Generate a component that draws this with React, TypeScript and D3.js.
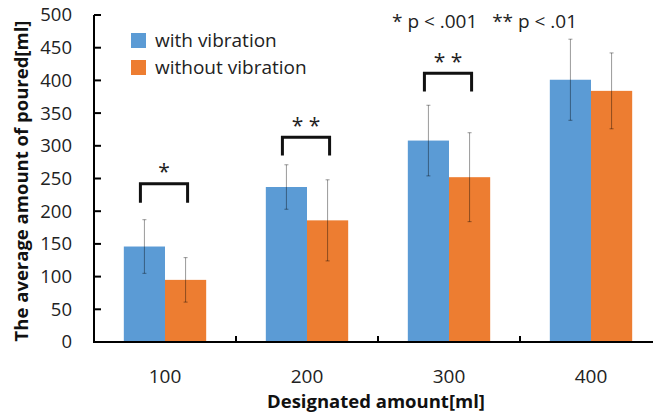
import React from "react";
import * as d3 from "d3";

const categories = ["100", "200", "300", "400"];
const withVibration = [146, 237, 308, 401];
const withVibrationErr = [41, 34, 54, 62];
const withoutVibration = [95, 186, 252, 384];
const withoutVibrationErr = [34, 62, 68, 58];
const yTicks = [0, 50, 100, 150, 200, 250, 300, 350, 400, 450, 500];
// bracket: category index, value level (top), leg depth, label
const brackets = [
  { cat: 0, top: 242, bottom: 213, label: "*" },
  { cat: 1, top: 313, bottom: 285, label: "* *" },
  { cat: 2, top: 411, bottom: 383, label: "* *" },
];

const W = 653;
const H = 416;
const font = "'Open Sans', 'Noto Sans', sans-serif";

export default function App() {
  const left = 94;
  const catW = 142;
  const x = d3
    .scaleBand()
    .domain(categories)
    .range([left, left + catW * categories.length])
    .paddingInner(0.42)
    .paddingOuter(0.21);
  const y = d3.scaleLinear().domain([0, 500]).range([342, 15]);
  const barW = x.bandwidth() / 2;

  const series = [
    { name: "with vibration", values: withVibration, err: withVibrationErr, color: "#5B9BD5" },
    { name: "without vibration", values: withoutVibration, err: withoutVibrationErr, color: "#ED7D31" },
  ];

  return (
    <svg width={W} height={H} style={{ position: "absolute", left: 0, top: 0, background: "#fff" }} fontFamily={font}>
      {/* bars */}
      {series.map((s, si) =>
        s.values.map((v, i) => {
          const bx = (x(categories[i]) as number) + si * barW;
          return <rect key={s.name + i} x={bx} y={y(v)} width={barW} height={y(0) - y(v)} fill={s.color} />;
        })
      )}
      {/* error bars */}
      {series.map((s, si) =>
        s.values.map((v, i) => {
          const cx = (x(categories[i]) as number) + si * barW + barW / 2;
          const y1 = y(v + s.err[i]);
          const y2 = y(v - s.err[i]);
          return (
            <g key={"e" + s.name + i} stroke="#000" strokeOpacity={0.4} strokeWidth={1}>
              <line x1={cx} x2={cx} y1={y1} y2={y2} />
              <line x1={cx - 2} x2={cx + 2} y1={y1} y2={y1} />
              <line x1={cx - 2} x2={cx + 2} y1={y2} y2={y2} />
            </g>
          );
        })
      )}
      {/* axes */}
      <line x1={left} x2={left} y1={y(500)} y2={y(0)} stroke="#000" strokeWidth={2} />
      <line x1={left - 1} x2={W + 20} y1={y(0)} y2={y(0)} stroke="#000" strokeWidth={2} />
      {yTicks.map((t) => (
        <g key={"y" + t}>
          <line x1={left} x2={left + 7} y1={y(t)} y2={y(t)} stroke="#000" strokeWidth={2} />
          <text x={72} y={y(t)} dy="0.35em" textAnchor="end" fontSize={18.5} fill="#222">
            {t}
          </text>
        </g>
      ))}
      {categories.map((c, i) => {
        const x0 = left + catW * (i + 1);
        return (
          <g key={"c" + c}>
            <line x1={x0} x2={x0} y1={y(0)} y2={y(0) - 6} stroke="#000" strokeWidth={2} />
            <text x={(x(c) as number) + x.bandwidth() / 2} y={376} dy="0.35em" textAnchor="middle" fontSize={19} fill="#222">
              {c}
            </text>
          </g>
        );
      })}
      <text x={376} y={402} dy="0.35em" textAnchor="middle" fontSize={18.5} fontWeight="bold" fill="#111">
        Designated amount[ml]
      </text>
      <text
        transform={`translate(22,181) rotate(-90)`}
        dy="0.35em"
        textAnchor="middle"
        fontSize={18.5}
        fontWeight="bold"
        fill="#111"
      >
        The average amount of poured[ml]
      </text>
      {/* brackets */}
      {brackets.map((b, i) => {
        const x0 = (x(categories[b.cat]) as number) + barW / 2 - 4;
        const x1 = (x(categories[b.cat]) as number) + barW * 1.5 + 2;
        return (
          <g key={"b" + i}>
            <path
              d={`M${x0},${y(b.bottom)}V${y(b.top)}H${x1}V${y(b.bottom)}`}
              fill="none"
              stroke="#111"
              strokeWidth={3}
            />
            <text x={(x0 + x1) / 2} y={y(b.top) - 12} dy="0.35em" textAnchor="middle" fontSize={21} fill="#222">
              {b.label}
            </text>
          </g>
        );
      })}
      <text x={392} y={21} dy="0.35em" fontSize={19} fill="#222" xmlSpace="preserve">
        {"* p < .001   ** p < .01"}
      </text>
      {/* legend */}
      {series.map((s, i) => (
        <g key={"l" + s.name} transform={`translate(131,${33 + i * 27})`}>
          <rect width={15} height={15} fill={s.color} />
          <text x={24} y={7.5} dy="0.35em" fontSize={19} fill="#222">
            {s.name}
          </text>
        </g>
      ))}
    </svg>
  );
}
